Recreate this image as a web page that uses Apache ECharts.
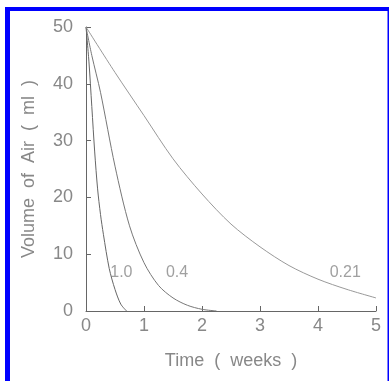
<!DOCTYPE html>
<html>
<head>
<meta charset="utf-8">
<script src="https://cdn.jsdelivr.net/npm/echarts@6/dist/echarts.min.js"></script>
<style>
html,body{margin:0;padding:0;background:#fff;}
#c{width:390px;height:381px;}
</style>
</head>
<body>
<div id="c"></div>
<script>
// Curve k = 1.0
var t10 = [0, 0.05, 0.1, 0.15, 0.2, 0.25, 0.3, 0.4, 0.5, 0.6, 0.7];
var v10 = [50, 44, 36, 28, 21.5, 17, 13.5, 7.5, 3.8, 1.2, 0];
// Curve k = 0.4
var t04 = [0, 0.1, 0.25, 0.5, 0.75, 1, 1.25, 1.5, 1.75, 2, 2.25];
var v04 = [50, 45, 38.5, 25.5, 15, 8.5, 4.5, 2.3, 1.0, 0.3, 0];
// Curve k = 0.21
var t021 = [0, 0.5, 1, 1.5, 2, 2.5, 3, 3.5, 4, 4.5, 5];
var v021 = [50, 42, 34.4, 26.8, 20.6, 15.3, 11.3, 8.0, 5.6, 3.8, 2.3];
// Curve labels
var labelText = ['1.0', '0.4', '0.21'];
var labelT = [0.61, 1.57, 4.47];
var labelV = [6.7, 6.7, 6.7];

function pairs(t, v) { return t.map(function (x, i) { return [x, v[i]]; }); }

var chart = echarts.init(document.getElementById('c'), null, {renderer: 'canvas'});
var txt = '#888';
var ff = '"Liberation Sans", Arial, sans-serif';
chart.setOption({
  animation: false,
  backgroundColor: '#fff',
  grid: {left: 86, right: 14, top: 27, bottom: 70},
  xAxis: {
    type: 'value', min: 0, max: 5, interval: 1,
    name: 'Time  (  weeks  )', nameLocation: 'middle', nameGap: 41,
    nameTextStyle: {color: txt, fontSize: 18, fontFamily: ff},
    axisLine: {lineStyle: {color: '#666', width: 1}},
    axisTick: {inside: true, length: 5, lineStyle: {color: '#666'}},
    axisLabel: {color: txt, fontSize: 18, fontFamily: ff, margin: 6},
    splitLine: {show: false}
  },
  yAxis: {
    type: 'value', min: 0, max: 50, interval: 10,
    name: 'Volume  of  Air  (  ml  )', nameLocation: 'middle', nameGap: 48,
    nameTextStyle: {color: txt, fontSize: 18, fontFamily: ff},
    axisLine: {show: true, lineStyle: {color: '#666', width: 1}},
    axisTick: {show: true, inside: true, length: 5, lineStyle: {color: '#666'}},
    axisLabel: {color: txt, fontSize: 18, fontFamily: ff, margin: 13},
    splitLine: {show: false}
  },
  graphic: [
    {type: 'rect', shape: {x: 5, y: 7, width: 384, height: 4}, style: {fill: '#0000ff'}, silent: true},
    {type: 'rect', shape: {x: 5, y: 7, width: 5, height: 374}, style: {fill: '#0000ff'}, silent: true},
    {type: 'rect', shape: {x: 387.5, y: 7, width: 1.5, height: 374}, style: {fill: '#0000ff'}, silent: true}
  ],
  series: [
    {type: 'line', data: pairs(t10, v10), smooth: 0.3, showSymbol: false,
     lineStyle: {color: '#666', width: 1}},
    {type: 'line', data: pairs(t04, v04), smooth: 0.3, showSymbol: false,
     lineStyle: {color: '#777', width: 1}},
    {type: 'line', data: pairs(t021, v021), smooth: 0.3, showSymbol: false,
     lineStyle: {color: '#999', width: 1}},
    {type: 'scatter', symbolSize: 1, itemStyle: {color: 'rgba(0,0,0,0)'},
     data: labelT.map(function (x, i) { return {value: [x, labelV[i]], name: labelText[i]}; }),
     label: {show: true, position: 'inside', formatter: '{b}', color: txt, fontSize: 16, fontFamily: ff}}
  ]
});
</script>
</body>
</html>
